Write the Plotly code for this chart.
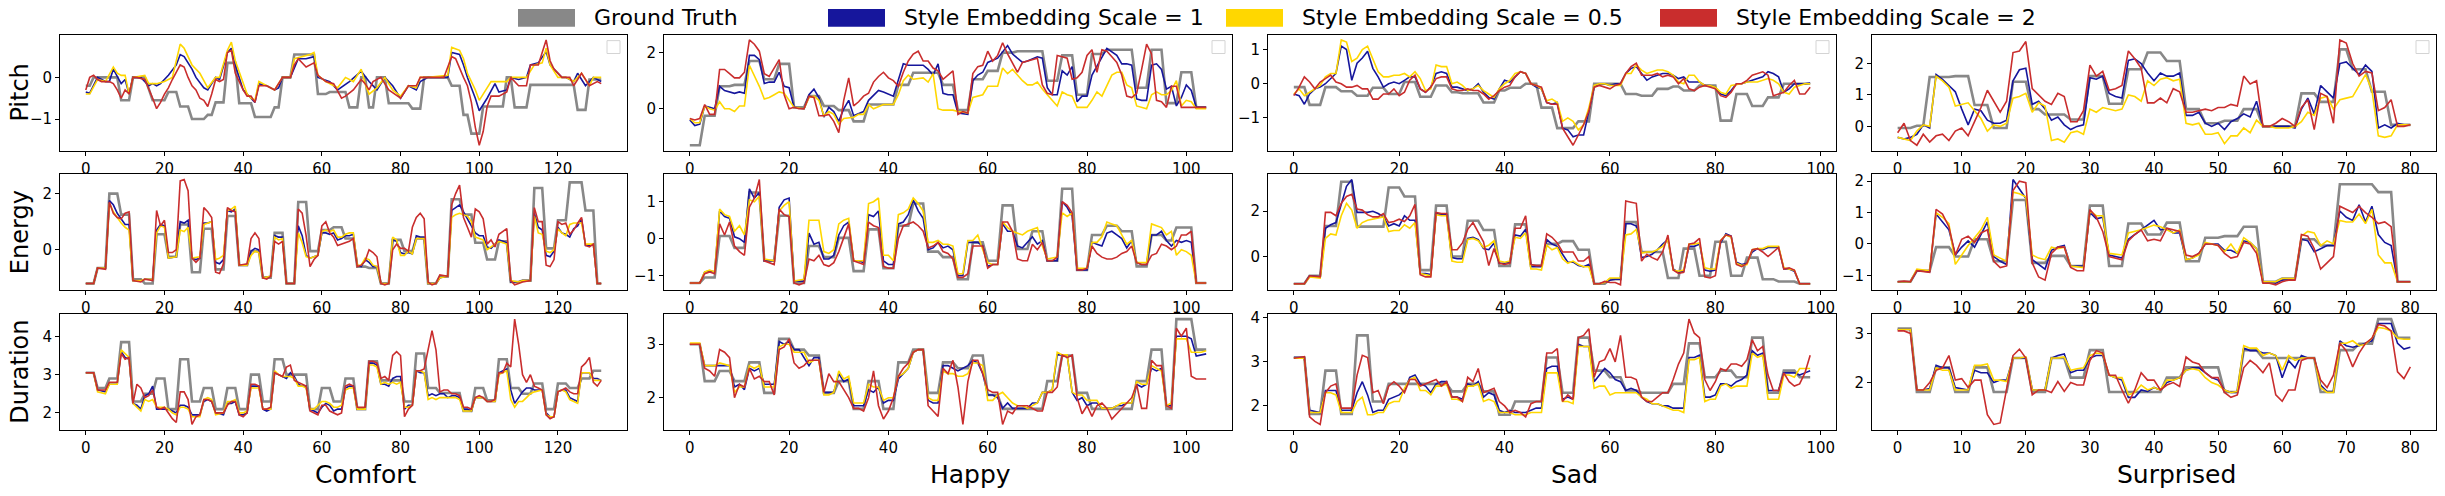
import plotly.graph_objects as go

W, H = 2445, 496
emotions = ["Comfort", "Happy", "Sad", "Surprised"]
features = ["Pitch", "Energy", "Duration"]
n_frames = [132, 105, 99, 81]
x_tick_step = [20, 20, 20, 10]
series_names = ["Ground Truth", "Style Embedding Scale = 1",
                "Style Embedding Scale = 0.5", "Style Embedding Scale = 2"]
series_colors = ["#888888", "#16169c", "#ffd700", "#c92d2d"]
y_ticks = [
    [[-1, 0], [0, 2], [-1, 0, 1], [0, 1, 2]],
    [[0, 2], [-1, 0, 1], [0, 2], [-1, 0, 1, 2]],
    [[2, 3, 4], [2, 3], [2, 3, 4], [2, 3]],
]

# ---------------- Comfort ----------------
comfort_pitch_gt = [(0,1,-0.2),(2,8,0.0),(9,11,-0.55),(12,15,0.0),(17,20,-0.55),(21,23,-0.35),(24,26,-0.7),(27,30,-1.0),(31,32,-0.9),(33,35,-0.6),(36,38,0.35),(39,42,-0.62),(43,47,-0.95),(48,49,-0.72),(50,52,0.0),(53,58,0.55),(59,61,-0.4),(62,66,-0.35),(67,69,-0.72),(70,71,0.0),(72,73,-0.72),(74,76,0.0),(77,82,-0.62),(83,85,-0.75),(86,92,0.0),(93,95,-0.2),(96,97,-0.9),(98,100,-1.35),(101,106,-0.7),(107,108,0.0),(109,112,-0.72),(113,124,-0.18),(125,127,-0.78),(128,131,-0.05)]
comfort_pitch_s1 = [(0,-0.35),(1,-0.38),(3,0.0),(5,-0.1),(6,-0.1),(7,0.2),(9,-0.15),(10,-0.05),(11,-0.4),(12,0.0),(14,0.0),(16,-0.2),(17,-0.15),(18,-0.2),(19,-0.15),(21,0.05),(23,0.3),(24,0.55),(25,0.5),(27,0.2),(28,0.0),(30,-0.25),(31,-0.3),(33,0.0),(34,-0.05),(36,0.6),(37,0.7),(38,0.3),(40,-0.3),(42,-0.5),(43,-0.6),(44,-0.15),(46,-0.2),(48,-0.3),(49,-0.25),(50,0.0),(52,0.0),(54,0.45),(56,0.45),(58,0.5),(59,0.0),(62,-0.1),(64,-0.3),(67,-0.1),(70,0.15),(72,-0.1),(74,-0.3),(76,0.0),(78,-0.2),(80,-0.5),(82,-0.2),(84,-0.3),(85,-0.1),(87,0.0),(92,0.0),(93,0.6),(95,0.55),(96,0.3),(97,0.0),(99,-0.5),(100,-0.8),(102,-0.5),(104,-0.15),(105,-0.35),(107,-0.3),(108,0.0),(110,-0.05),(112,0.0),(113,0.3),(115,0.35),(117,0.62),(118,0.3),(119,0.2),(121,0.0),(122,0.0),(124,-0.1),(125,0.1),(127,-0.2),(129,0.0),(131,-0.1)]
comfort_pitch_s05 = [(0,-0.4),(1,-0.4),(3,-0.05),(5,-0.1),(7,0.25),(8,0.1),(9,0.05),(10,0.05),(11,-0.4),(12,0.0),(15,0.05),(16,-0.15),(18,-0.15),(20,-0.1),(22,0.0),(24,0.8),(25,0.7),(27,0.3),(29,0.1),(31,-0.25),(33,0.0),(34,0.0),(36,0.65),(37,0.85),(38,0.4),(41,-0.4),(42,-0.5),(43,-0.55),(44,-0.1),(46,-0.2),(48,-0.3),(50,0.0),(52,0.0),(53,0.45),(55,0.5),(57,0.55),(58,0.6),(59,0.05),(61,-0.1),(64,-0.25),(66,0.0),(68,-0.1),(70,0.2),(71,-0.15),(72,-0.4),(74,-0.25),(76,0.0),(78,-0.3),(80,-0.45),(82,-0.2),(84,-0.25),(85,0.0),(87,0.0),(92,0.05),(93,0.72),(95,0.65),(96,0.45),(97,0.1),(99,-0.3),(100,-0.55),(101,-0.4),(103,-0.1),(105,-0.1),(107,-0.1),(108,0.0),(112,0.0),(114,0.3),(116,0.35),(117,0.7),(118,0.3),(120,0.0),(122,0.0),(124,-0.1),(126,0.1),(128,-0.2),(129,0.0),(131,0.0)]
comfort_pitch_s2 = [(0,-0.3),(1,0.0),(2,0.05),(3,-0.05),(4,-0.1),(6,-0.1),(7,-0.15),(8,-0.3),(9,-0.5),(10,-0.3),(11,-0.4),(12,0.0),(13,0.0),(15,-0.05),(17,-0.5),(18,-0.75),(19,-0.6),(20,-0.4),(21,-0.25),(22,-0.05),(24,0.3),(25,0.25),(26,0.0),(27,-0.2),(28,-0.3),(29,-0.5),(30,-0.55),(31,-0.7),(32,-0.4),(33,-0.05),(34,-0.1),(35,-0.05),(36,0.6),(37,0.65),(38,0.1),(40,-0.3),(41,-0.45),(42,-0.45),(43,-0.6),(44,-0.2),(46,-0.2),(48,-0.3),(50,0.0),(52,0.0),(53,0.3),(54,0.45),(56,0.25),(57,0.3),(58,0.35),(59,0.05),(61,-0.1),(63,-0.15),(65,-0.5),(66,-0.45),(68,-0.3),(70,-0.05),(71,-0.15),(72,-0.3),(73,-0.1),(75,0.0),(77,-0.3),(80,-0.5),(81,-0.35),(82,-0.2),(84,-0.2),(85,0.0),(87,0.0),(91,0.0),(93,0.5),(94,0.45),(96,0.0),(97,-0.2),(98,-0.6),(99,-1.2),(100,-1.63),(101,-1.3),(102,-0.7),(103,-0.45),(105,-0.45),(107,-0.35),(108,0.0),(110,-0.2),(112,-0.2),(113,0.3),(115,0.3),(116,0.6),(117,0.9),(118,0.4),(119,0.2),(121,0.0),(123,0.0),(124,-0.2),(126,0.1),(128,-0.2),(130,-0.1),(131,-0.15)]

comfort_energy_gt = [(0,2,-1.2),(3,5,-0.65),(6,8,2.0),(9,11,1.25),(12,14,-1.05),(15,17,-1.2),(18,20,0.55),(21,23,-0.25),(24,26,0.9),(27,29,-0.8),(30,32,0.75),(33,35,-0.7),(36,38,1.2),(39,41,-0.55),(42,44,-0.05),(45,47,-1.0),(48,50,0.6),(51,53,-1.2),(54,56,1.7),(57,59,-0.05),(60,62,0.7),(63,65,0.8),(66,68,0.4),(69,71,-0.6),(72,74,-0.65),(75,77,-1.2),(78,80,0.35),(81,83,-0.05),(84,86,0.4),(87,89,-1.2),(90,92,-0.95),(93,95,1.8),(96,98,1.25),(99,101,0.25),(102,104,-0.35),(105,107,0.3),(108,110,-1.15),(111,113,-1.1),(114,116,2.2),(117,119,0.05),(120,122,1.05),(123,126,2.4),(127,129,1.4),(130,131,-1.2)]
comfort_energy_s1 = [(0,-1.2),(2,-1.2),(3,-0.65),(5,-0.65),(6,1.75),(7,1.6),(8,1.3),(9,1.1),(10,0.9),(11,0.9),(12,-1.1),(14,-1.1),(15,-1.05),(17,-1.05),(18,0.7),(19,0.9),(20,0.85),(21,-0.3),(23,-0.25),(24,1.0),(25,0.95),(26,1.05),(27,-0.3),(28,-0.35),(29,-0.3),(30,0.95),(31,0.95),(32,1.0),(33,-0.45),(34,-0.5),(35,-0.35),(36,1.4),(37,1.35),(38,1.45),(39,-0.55),(41,-0.55),(42,-0.05),(43,0.05),(44,0.0),(45,-1.0),(47,-0.95),(48,0.5),(49,0.45),(50,0.45),(51,-1.2),(53,-1.2),(54,0.85),(55,0.5),(56,-0.2),(57,-0.3),(59,-0.2),(60,0.6),(61,0.6),(62,0.55),(63,0.6),(64,0.35),(65,0.4),(66,0.5),(67,0.5),(68,0.55),(69,-0.55),(70,-0.6),(71,-0.35),(72,-0.45),(73,-0.6),(74,-0.6),(75,-1.2),(77,-1.2),(78,0.35),(79,0.3),(80,-0.1),(81,-0.15),(82,-0.1),(83,-0.15),(84,0.5),(85,0.45),(86,0.45),(87,-1.2),(89,-1.2),(90,-1.0),(92,-0.95),(93,1.4),(94,1.5),(95,1.6),(96,1.35),(97,1.1),(98,0.85),(99,0.6),(100,0.5),(101,0.5),(102,0.1),(103,0.05),(104,0.2),(105,0.35),(106,0.3),(107,0.25),(108,-1.15),(110,-1.15),(111,-1.1),(113,-1.1),(114,1.3),(115,0.8),(116,0.7),(117,-0.2),(118,-0.25),(119,-0.05),(120,0.8),(121,0.6),(122,0.55),(123,0.45),(124,0.75),(125,0.85),(126,1.1),(127,0.15),(128,0.15),(129,0.2),(130,-1.2),(131,-1.2)]
comfort_energy_s05 = [(0,-1.2),(2,-1.2),(3,-0.65),(5,-0.65),(6,1.65),(7,1.35),(8,1.15),(9,0.95),(10,0.8),(11,0.7),(12,-1.1),(14,-1.1),(15,-1.05),(17,-1.05),(18,0.6),(19,0.85),(20,0.8),(21,-0.3),(23,-0.25),(24,0.7),(25,0.65),(26,0.8),(27,-0.3),(29,-0.25),(30,0.9),(31,0.95),(32,1.0),(33,-0.35),(34,-0.3),(35,-0.2),(36,1.4),(37,1.45),(38,1.55),(39,-0.55),(41,-0.55),(42,-0.2),(43,-0.05),(44,-0.1),(45,-1.0),(47,-0.95),(48,0.45),(49,0.35),(50,0.4),(51,-1.2),(53,-1.2),(54,0.6),(55,0.25),(56,-0.25),(57,-0.3),(59,-0.2),(60,0.65),(61,0.7),(62,0.65),(63,0.7),(64,0.45),(65,0.45),(66,0.55),(67,0.6),(68,0.6),(69,-0.55),(70,-0.55),(71,-0.3),(72,-0.35),(73,-0.55),(74,-0.6),(75,-1.2),(77,-1.2),(78,0.45),(79,0.35),(80,-0.2),(81,-0.2),(82,-0.05),(83,-0.15),(84,0.4),(86,0.4),(87,-1.2),(89,-1.2),(90,-1.0),(92,-0.95),(93,1.15),(94,1.25),(95,1.3),(96,1.25),(97,1.2),(98,1.0),(99,0.45),(100,0.4),(101,0.35),(102,0.0),(103,0.1),(104,0.2),(105,0.3),(106,0.25),(107,0.2),(108,-1.1),(110,-1.15),(111,-1.1),(113,-1.1),(114,1.2),(115,0.6),(116,0.55),(117,-0.05),(118,-0.1),(119,0.0),(120,0.75),(121,0.6),(122,0.5),(123,0.9),(124,0.95),(125,0.95),(126,0.95),(127,0.2),(128,0.2),(129,0.2),(130,-1.2),(131,-1.2)]
comfort_energy_s2 = [(0,-1.2),(2,-1.2),(3,-0.65),(5,-0.7),(6,1.7),(7,1.3),(8,1.15),(9,1.1),(10,1.3),(11,1.35),(12,-1.1),(14,-1.15),(15,-1.05),(17,-1.1),(18,1.4),(19,0.85),(20,1.05),(21,-0.1),(22,-0.1),(23,0.0),(24,2.45),(25,2.5),(26,2.1),(27,-0.3),(28,-0.45),(29,-0.3),(30,1.5),(31,1.35),(32,1.15),(33,-0.8),(34,-0.85),(35,-0.5),(36,1.5),(37,1.4),(38,1.35),(39,-0.55),(41,-0.5),(42,0.4),(43,0.6),(44,0.4),(45,-1.0),(46,-1.05),(47,-0.95),(48,0.3),(49,0.2),(50,0.3),(51,-1.2),(53,-1.2),(54,1.45),(55,1.3),(56,0.5),(57,-0.6),(58,-0.35),(59,-0.2),(60,0.85),(61,1.0),(62,0.6),(63,0.45),(64,0.15),(65,0.2),(66,0.25),(67,0.3),(68,0.4),(69,-0.6),(70,-0.55),(71,-0.4),(72,0.0),(73,-0.1),(74,-0.25),(75,-1.2),(76,-1.25),(77,-1.2),(78,0.0),(79,0.2),(80,0.05),(81,0.05),(82,-0.05),(83,0.8),(84,1.15),(85,1.3),(86,1.1),(87,-1.15),(88,-1.25),(89,-1.2),(90,-0.9),(92,-0.95),(93,1.6),(94,2.0),(95,2.3),(96,1.15),(97,0.8),(98,0.45),(99,1.45),(100,1.35),(101,1.1),(102,0.2),(103,0.35),(104,0.1),(105,0.55),(106,0.65),(107,0.75),(108,-1.1),(109,-1.25),(110,-1.2),(111,-1.15),(113,-1.1),(114,1.5),(115,1.0),(116,1.0),(117,-0.55),(118,-0.6),(119,-0.35),(120,1.0),(121,0.9),(122,0.95),(123,0.55),(124,0.7),(125,0.95),(126,1.15),(127,0.15),(128,0.1),(129,0.2),(130,-1.2),(131,-1.2)]

comfort_duration_gt = [(0,2,3.05),(3,5,2.65),(6,8,2.9),(9,11,3.85),(12,14,2.3),(15,17,2.5),(18,20,2.9),(21,23,2.1),(24,26,3.4),(27,29,2.3),(30,32,2.65),(33,35,2.1),(36,38,2.65),(39,41,2.1),(42,44,3.0),(45,47,2.3),(48,50,3.4),(51,56,3.0),(57,59,2.1),(60,62,2.65),(63,65,2.3),(66,68,2.9),(69,71,2.1),(72,74,3.35),(75,80,2.85),(81,83,2.3),(84,86,3.55),(87,89,2.65),(90,95,2.52),(96,98,2.05),(99,101,2.65),(102,104,2.33),(105,107,3.4),(108,110,2.65),(111,113,2.5),(114,116,2.77),(117,119,2.1),(120,122,2.77),(123,125,2.65),(126,128,2.9),(129,131,3.1)]
comfort_duration_s1 = [(0,3.05),(2,3.05),(3,2.6),(5,2.55),(6,2.75),(8,2.75),(9,3.6),(10,3.45),(11,3.4),(12,2.25),(13,2.2),(14,2.1),(15,2.45),(16,2.5),(17,2.7),(18,2.1),(20,2.1),(21,2.1),(22,2.05),(23,2.0),(24,2.2),(25,2.2),(26,2.15),(27,1.95),(29,1.95),(30,2.3),(31,2.35),(32,2.3),(33,2.0),(35,1.95),(36,2.25),(37,2.25),(38,2.3),(39,1.95),(40,1.95),(41,2.0),(42,2.7),(44,2.7),(45,2.1),(46,2.05),(47,2.1),(48,3.05),(49,3.0),(50,2.95),(51,2.9),(52,3.05),(53,2.95),(54,2.75),(55,2.7),(56,2.7),(57,2.1),(58,2.05),(59,2.0),(60,2.15),(61,2.25),(62,2.2),(63,2.05),(64,2.1),(65,2.1),(66,2.65),(67,2.7),(68,2.7),(69,2.1),(71,2.1),(72,3.3),(73,3.3),(74,3.25),(75,2.75),(76,2.75),(77,2.7),(78,2.9),(79,2.95),(80,2.95),(81,2.1),(82,2.2),(83,2.2),(84,3.1),(85,3.05),(86,3.05),(87,2.45),(88,2.5),(89,2.45),(90,2.5),(91,2.5),(92,2.4),(93,2.45),(94,2.45),(95,2.4),(96,2.1),(97,2.1),(98,2.05),(99,2.4),(101,2.4),(102,2.3),(104,2.3),(105,3.05),(106,3.1),(107,3.15),(108,2.6),(109,2.25),(110,2.4),(111,2.55),(112,2.65),(113,2.65),(114,2.6),(116,2.6),(117,2.0),(118,1.9),(119,1.9),(120,2.55),(121,2.6),(122,2.6),(123,2.4),(124,2.35),(125,2.3),(126,3.05),(128,3.05),(129,2.9),(130,2.9),(131,2.85)]
comfort_duration_s05 = [(0,3.05),(2,3.05),(3,2.55),(5,2.5),(6,2.75),(8,2.75),(9,3.65),(10,3.55),(11,3.45),(12,2.25),(13,2.15),(14,2.05),(15,2.35),(16,2.3),(17,2.35),(18,2.15),(20,2.15),(21,2.1),(22,2.0),(23,1.95),(24,2.15),(25,2.15),(26,2.1),(27,1.9),(29,1.9),(30,2.35),(31,2.4),(32,2.35),(33,1.95),(35,2.0),(36,2.3),(37,2.3),(38,2.35),(39,2.0),(40,2.0),(41,2.05),(42,2.65),(44,2.65),(45,2.1),(46,2.1),(47,2.1),(48,3.1),(49,3.0),(50,2.95),(51,2.95),(52,2.95),(53,2.9),(54,2.7),(55,2.7),(56,2.65),(57,2.1),(58,2.1),(59,2.2),(60,2.3),(61,2.3),(62,2.25),(63,2.15),(64,2.15),(65,2.2),(66,2.6),(67,2.65),(68,2.65),(69,2.1),(71,2.1),(72,3.25),(73,3.25),(74,3.2),(75,2.75),(76,2.8),(77,2.75),(78,2.8),(79,2.75),(80,2.8),(81,2.15),(82,2.15),(83,2.2),(84,3.1),(85,3.1),(86,3.05),(87,2.35),(88,2.4),(89,2.35),(90,2.4),(92,2.4),(94,2.4),(95,2.35),(96,2.05),(97,2.05),(98,2.05),(99,2.4),(101,2.4),(102,2.3),(104,2.3),(105,3.0),(106,3.05),(107,3.1),(108,2.35),(109,2.15),(110,2.3),(111,2.3),(112,2.4),(113,2.5),(114,2.55),(116,2.6),(117,1.95),(118,1.9),(119,1.9),(120,2.55),(121,2.6),(122,2.55),(123,2.35),(124,2.3),(125,2.25),(126,3.05),(128,3.05),(129,2.85),(130,2.85),(131,2.85)]
comfort_duration_s2 = [(0,3.05),(2,3.05),(3,2.6),(5,2.6),(6,2.8),(8,2.8),(9,3.55),(10,3.4),(11,3.45),(12,2.25),(13,2.75),(14,2.65),(15,2.4),(16,2.45),(17,2.6),(18,2.15),(19,2.1),(20,2.15),(21,2.0),(22,1.85),(23,1.75),(24,2.55),(25,2.55),(26,2.35),(27,1.7),(28,1.9),(29,1.95),(30,2.35),(31,2.35),(32,2.3),(33,2.0),(35,2.0),(36,2.2),(37,2.3),(38,2.3),(39,1.95),(40,1.9),(41,2.0),(42,2.75),(43,2.75),(44,2.7),(45,2.1),(46,2.1),(47,2.15),(48,3.05),(49,3.0),(50,2.95),(51,3.2),(52,3.25),(53,2.85),(54,2.8),(55,2.75),(56,2.7),(57,2.05),(58,2.0),(59,1.95),(60,2.2),(61,2.2),(62,2.05),(63,2.0),(64,1.95),(65,2.0),(66,2.7),(67,2.75),(68,2.7),(69,2.15),(71,2.15),(72,3.35),(73,3.35),(74,3.3),(75,2.9),(76,2.95),(77,2.85),(78,3.5),(79,3.6),(80,3.5),(81,1.9),(82,2.1),(83,2.2),(84,3.1),(85,3.1),(86,3.15),(87,3.65),(88,4.15),(89,3.65),(90,2.55),(91,2.6),(92,2.6),(93,2.5),(94,2.5),(95,2.45),(96,2.15),(97,2.15),(98,2.1),(99,2.4),(100,2.45),(101,2.4),(102,2.3),(103,2.3),(104,2.35),(105,3.05),(106,3.05),(107,3.3),(108,3.2),(109,4.45),(110,3.8),(111,3.0),(112,2.8),(113,3.0),(114,2.7),(115,2.65),(116,2.6),(117,1.95),(118,1.85),(119,1.9),(120,2.55),(121,2.6),(122,2.65),(123,2.55),(124,2.5),(125,2.5),(126,3.2),(127,3.3),(128,3.45),(129,2.8),(130,2.7),(131,2.85)]

# ---------------- Happy ----------------
happy_pitch_gt = [(0,2,-1.3),(3,5,-0.25),(6,8,0.8),(9,11,0.85),(12,14,1.7),(15,17,1.05),(18,20,1.6),(21,23,0.05),(24,26,0.45),(27,29,0.1),(30,32,-0.05),(33,35,-0.45),(36,41,0.15),(42,44,0.85),(45,50,1.28),(51,53,0.85),(54,56,-0.05),(57,59,1.05),(60,62,1.35),(63,65,2.0),(66,71,2.05),(72,74,1.0),(75,77,1.9),(78,80,0.5),(81,83,1.95),(84,89,2.1),(90,92,0.75),(93,95,2.1),(96,98,0.2),(99,101,1.3),(102,104,0.05)]
happy_pitch_s1 = [(0,-0.4),(1,-0.6),(2,-0.55),(3,0.1),(4,0.05),(5,0.0),(6,0.8),(7,0.65),(9,0.55),(10,0.6),(11,0.55),(12,1.9),(13,1.9),(14,1.75),(15,0.9),(16,0.95),(17,0.95),(18,1.3),(19,0.8),(20,0.75),(21,0.05),(23,0.0),(24,0.5),(25,0.7),(26,0.4),(27,-0.3),(28,0.05),(29,-0.1),(30,-0.45),(31,0.0),(32,0.3),(33,-0.25),(35,-0.1),(36,0.3),(38,0.65),(39,0.6),(41,0.45),(42,1.0),(43,1.6),(44,1.55),(47,1.55),(48,1.4),(49,1.2),(50,1.6),(51,0.55),(52,0.5),(53,0.5),(54,-0.15),(56,-0.2),(57,1.0),(58,1.2),(59,1.3),(60,1.65),(62,1.8),(64,2.25),(65,1.95),(67,1.65),(68,1.7),(70,1.85),(71,1.8),(72,0.75),(73,0.5),(74,0.5),(75,1.35),(76,1.2),(77,1.5),(78,0.25),(79,0.45),(80,0.45),(81,1.2),(82,1.5),(84,2.15),(86,1.9),(87,1.6),(88,1.6),(89,1.55),(90,0.35),(91,0.3),(92,0.3),(93,1.55),(94,1.6),(95,1.4),(96,0.7),(97,0.8),(98,0.1),(99,0.4),(100,0.85),(101,0.65),(102,0.05),(104,0.05)]
happy_pitch_s05 = [(0,-0.35),(1,-0.5),(2,-0.5),(3,0.1),(4,0.0),(5,-0.05),(6,0.25),(7,0.0),(8,0.0),(9,-0.1),(10,0.1),(11,0.1),(12,1.55),(13,1.2),(14,0.8),(15,0.35),(16,0.4),(17,0.5),(18,0.6),(19,0.55),(20,0.3),(21,0.05),(23,0.0),(24,0.4),(25,0.45),(26,0.3),(27,-0.25),(28,-0.1),(29,-0.2),(30,-0.55),(31,-0.35),(33,-0.3),(34,-0.2),(35,-0.2),(36,0.15),(37,0.0),(39,0.15),(41,0.15),(42,0.5),(43,1.0),(44,1.2),(45,1.05),(47,1.1),(48,0.95),(49,1.25),(50,0.0),(51,-0.05),(53,-0.05),(54,-0.1),(56,-0.15),(57,0.4),(58,0.45),(59,0.5),(60,0.8),(62,0.8),(63,1.45),(64,1.25),(65,1.4),(66,1.2),(67,1.0),(68,0.85),(69,0.85),(70,0.95),(71,0.7),(72,0.5),(73,0.3),(74,0.1),(75,0.6),(76,0.5),(77,0.45),(78,0.05),(80,0.05),(81,0.3),(82,0.6),(83,0.45),(85,1.2),(86,1.3),(87,1.3),(88,0.85),(89,0.75),(90,0.1),(92,0.0),(93,0.5),(94,0.6),(95,0.5),(96,0.5),(97,0.65),(98,1.0),(99,0.1),(100,0.3),(101,0.25),(102,0.0),(104,0.0)]
happy_pitch_s2 = [(0,-0.35),(1,-0.4),(2,-0.35),(3,0.15),(4,-0.2),(5,-0.2),(6,1.4),(7,1.4),(8,1.25),(9,1.1),(10,1.1),(11,1.3),(12,2.45),(13,2.3),(14,2.05),(15,1.25),(16,1.15),(17,1.45),(18,1.75),(19,0.5),(20,0.0),(21,0.05),(22,0.0),(23,0.0),(24,0.45),(25,0.4),(26,-0.25),(27,-0.25),(28,-0.2),(29,-0.45),(30,-0.85),(31,0.3),(32,1.1),(33,0.1),(34,0.25),(35,0.45),(36,0.55),(37,0.95),(38,1.15),(39,1.3),(40,1.1),(41,1.0),(42,0.8),(43,1.3),(44,1.7),(45,1.95),(46,2.05),(47,1.7),(48,1.7),(49,1.45),(50,1.35),(51,1.05),(52,1.2),(53,1.35),(54,-0.2),(55,-0.1),(56,-0.15),(57,1.25),(58,1.5),(59,1.55),(60,2.05),(61,1.7),(62,1.9),(63,2.35),(64,1.95),(65,1.6),(66,1.3),(67,1.65),(68,1.7),(69,1.75),(70,1.8),(71,0.85),(72,0.55),(73,0.5),(74,1.9),(75,1.85),(76,1.8),(77,1.05),(78,1.1),(79,1.3),(80,1.9),(81,2.1),(82,1.3),(83,2.1),(84,2.05),(85,1.85),(86,1.65),(87,1.2),(88,0.45),(89,0.4),(90,0.55),(91,1.4),(92,2.3),(93,1.95),(94,0.3),(95,0.25),(96,0.05),(97,0.8),(98,0.8),(99,0.05),(104,0.05)]

happy_energy_gt = [(0,2,-1.2),(3,5,-1.05),(6,8,0.07),(9,11,-0.25),(12,14,1.25),(15,17,-0.6),(18,20,0.62),(21,23,-1.2),(24,26,-0.2),(27,29,-0.5),(30,32,0.02),(33,35,-0.88),(36,38,0.25),(39,41,-0.8),(42,44,0.35),(45,47,0.95),(48,50,-0.35),(51,53,-0.5),(54,56,-1.1),(57,59,-0.1),(60,62,-0.6),(63,65,0.9),(66,68,-0.28),(69,71,0.2),(72,74,-0.6),(75,77,1.35),(78,80,-0.85),(81,83,0.1),(84,86,0.35),(87,89,0.2),(90,92,-0.75),(93,95,0.1),(96,97,-0.05),(98,101,0.3),(102,104,-1.2)]
happy_energy_s1 = [(0,-1.2),(2,-1.2),(3,-0.9),(4,-0.88),(5,-0.9),(6,0.75),(7,0.6),(8,0.55),(9,0.05),(10,0.0),(11,-0.1),(12,1.35),(13,1.1),(14,1.25),(15,-0.6),(17,-0.6),(18,0.85),(19,1.05),(20,1.1),(21,-1.15),(23,-1.15),(24,0.15),(25,-0.15),(26,-0.1),(27,-0.55),(28,-0.55),(29,-0.45),(30,0.1),(31,0.35),(32,0.45),(33,-0.6),(34,-0.6),(35,-0.65),(36,0.65),(37,0.6),(38,0.75),(39,-0.6),(40,-0.7),(41,-0.7),(42,0.4),(43,0.45),(44,0.65),(45,1.05),(46,0.75),(47,0.55),(48,-0.3),(49,-0.25),(50,-0.1),(51,-0.25),(52,-0.2),(53,-0.3),(54,-1.0),(55,-1.0),(56,-0.1),(57,-0.1),(58,-0.1),(59,-0.2),(60,-0.75),(61,-0.7),(62,-0.7),(63,0.4),(64,0.2),(65,0.2),(66,-0.2),(67,-0.25),(68,-0.1),(69,0.05),(70,-0.15),(71,-0.05),(72,-0.6),(74,-0.6),(75,1.0),(76,0.85),(77,0.6),(78,-0.85),(80,-0.85),(81,-0.1),(82,-0.15),(83,-0.2),(84,0.15),(85,0.2),(86,0.1),(87,0.0),(88,-0.25),(89,-0.05),(90,-0.65),(91,-0.7),(92,-0.7),(93,0.1),(94,0.1),(95,0.2),(96,-0.05),(97,-0.2),(98,-0.05),(99,-0.1),(100,-0.05),(101,-0.1),(102,-1.2),(104,-1.2)]
happy_energy_s05 = [(0,-1.2),(2,-1.2),(3,-0.9),(4,-0.85),(5,-0.9),(6,0.8),(7,0.65),(8,0.6),(9,0.2),(10,0.35),(11,0.1),(12,1.05),(13,1.0),(14,1.15),(15,-0.55),(17,-0.6),(18,0.75),(19,0.9),(20,1.0),(21,-1.15),(23,-1.1),(24,0.5),(26,0.5),(27,-0.35),(28,-0.4),(29,-0.3),(30,0.4),(31,0.5),(32,0.55),(33,-0.6),(35,-0.6),(36,0.95),(37,1.0),(38,1.1),(39,-0.45),(40,-0.45),(41,-0.6),(42,0.65),(43,0.7),(44,0.8),(45,1.1),(46,0.95),(47,0.75),(48,-0.1),(49,-0.1),(50,-0.05),(51,-0.15),(52,-0.15),(53,-0.2),(54,-0.95),(55,-0.95),(56,-0.05),(57,-0.05),(58,0.1),(59,-0.3),(60,-0.65),(61,-0.7),(62,-0.7),(63,0.45),(64,0.3),(65,0.2),(66,0.15),(67,0.1),(68,0.2),(69,0.25),(70,0.3),(71,-0.2),(72,-0.55),(74,-0.5),(75,0.7),(76,0.6),(77,0.7),(78,-0.8),(80,-0.8),(81,-0.1),(82,-0.1),(83,0.05),(84,0.45),(85,0.4),(86,0.35),(87,0.1),(88,-0.15),(89,-0.05),(90,-0.65),(92,-0.65),(93,0.4),(94,0.35),(95,0.3),(96,0.1),(97,0.2),(98,-0.45),(99,-0.3),(100,-0.35),(101,-0.45),(102,-1.2),(104,-1.2)]
happy_energy_s2 = [(0,-1.2),(2,-1.2),(3,-0.95),(4,-0.9),(5,-0.95),(6,0.4),(7,0.1),(8,0.45),(9,-0.2),(10,-0.35),(11,-0.45),(12,0.85),(13,1.1),(14,1.6),(15,-0.6),(16,-0.65),(17,-0.7),(18,0.8),(19,0.65),(20,0.6),(21,-1.2),(22,-1.25),(23,-1.2),(24,-0.55),(25,-0.6),(26,-0.45),(27,-0.7),(28,-0.75),(29,-0.65),(30,-0.35),(31,0.0),(32,0.4),(33,-0.6),(34,-0.65),(35,-0.7),(36,0.45),(37,0.35),(38,0.3),(39,-0.75),(40,-0.8),(41,-0.8),(42,0.0),(43,0.35),(44,0.4),(45,0.45),(46,0.35),(47,0.2),(48,-0.25),(49,-0.2),(50,-0.1),(51,-0.35),(52,-0.4),(53,-0.55),(54,-1.05),(55,-1.05),(56,-0.95),(57,-0.2),(59,-0.2),(60,-0.8),(61,-0.7),(62,-0.7),(63,0.45),(64,0.45),(65,0.2),(66,-0.55),(67,-0.6),(68,-0.6),(69,-0.15),(70,-0.3),(71,-0.1),(72,-0.6),(73,-0.6),(74,-0.5),(75,1.0),(76,0.9),(77,0.7),(78,-0.85),(79,-0.85),(80,-0.8),(81,-0.2),(82,-0.4),(83,-0.5),(84,-0.55),(85,-0.55),(86,-0.5),(87,-0.4),(88,-0.35),(89,-0.2),(90,-0.65),(91,-0.7),(92,-0.7),(93,-0.45),(94,-0.4),(95,-0.15),(96,-0.2),(97,-0.3),(98,-0.2),(99,0.1),(100,0.1),(101,0.2),(102,-1.2),(104,-1.2)]

happy_duration_gt = [(0,2,3.0),(3,5,2.31),(6,8,2.5),(9,11,2.31),(12,14,2.66),(15,17,2.09),(18,20,3.1),(21,23,2.9),(24,26,2.79),(27,29,2.09),(30,32,2.31),(33,35,1.79),(36,38,2.31),(39,41,1.79),(42,44,2.66),(45,47,2.9),(48,50,2.09),(51,53,2.66),(54,56,2.55),(57,59,2.79),(60,62,2.05),(63,71,1.79),(72,74,2.31),(75,77,2.79),(78,80,2.09),(81,89,1.79),(90,92,2.31),(93,95,2.9),(96,97,1.79),(98,101,3.47),(102,104,2.9)]
happy_duration_s1 = [(0,3.0),(2,3.0),(3,2.6),(8,2.6),(9,2.2),(10,2.25),(11,2.15),(12,2.55),(13,2.5),(14,2.55),(15,2.25),(17,2.25),(18,3.05),(19,3.0),(20,3.05),(21,2.9),(22,2.9),(23,2.75),(24,2.6),(25,2.75),(26,2.75),(27,2.1),(29,2.1),(30,2.45),(31,2.3),(32,2.35),(33,1.85),(35,1.85),(36,2.15),(37,2.1),(38,2.2),(39,1.9),(40,1.95),(41,1.95),(42,2.35),(43,2.45),(44,2.55),(45,2.85),(46,2.9),(47,2.9),(48,1.95),(49,1.9),(50,1.9),(51,2.6),(52,2.6),(53,2.55),(54,2.5),(55,2.55),(56,2.6),(57,2.7),(58,2.65),(59,2.45),(60,2.05),(61,2.05),(62,2.0),(63,1.8),(64,1.9),(65,1.8),(68,1.8),(69,1.9),(70,1.9),(71,2.1),(72,2.1),(73,2.15),(74,2.8),(76,2.8),(77,2.1),(78,1.95),(79,2.0),(80,1.85),(81,1.9),(82,1.9),(83,1.8),(85,1.8),(86,1.85),(87,1.85),(88,1.9),(89,1.9),(90,2.25),(91,2.2),(92,2.25),(93,2.55),(94,2.5),(95,2.55),(96,1.85),(97,1.85),(98,3.15),(100,3.15),(101,3.1),(102,2.78),(103,2.8),(104,2.82)]
happy_duration_s05 = [(0,3.02),(2,3.02),(3,2.6),(5,2.6),(6,2.65),(8,2.6),(9,2.1),(10,2.2),(11,2.2),(12,2.6),(13,2.55),(14,2.6),(15,2.2),(17,2.2),(18,2.95),(19,3.0),(20,3.0),(21,2.85),(23,2.85),(24,2.65),(25,2.7),(26,2.7),(27,2.05),(28,2.05),(29,2.1),(30,2.5),(31,2.35),(32,2.4),(33,1.9),(35,1.9),(36,2.25),(37,2.2),(38,2.2),(39,1.95),(40,2.0),(41,2.0),(42,2.4),(43,2.45),(44,2.55),(45,2.85),(46,2.9),(47,2.9),(48,2.0),(49,1.95),(50,1.95),(51,2.5),(52,2.45),(53,2.45),(54,2.4),(55,2.4),(56,2.45),(57,2.65),(58,2.65),(59,2.6),(60,1.95),(61,1.95),(62,2.05),(63,2.1),(64,2.0),(65,1.9),(66,1.85),(67,1.85),(68,1.8),(69,1.85),(70,1.9),(71,2.1),(72,2.1),(73,2.15),(74,2.85),(75,2.8),(76,2.8),(77,2.1),(78,2.05),(79,2.05),(80,1.95),(82,1.95),(83,1.8),(85,1.8),(86,1.85),(87,1.9),(89,1.9),(90,2.3),(91,2.25),(92,2.25),(93,2.6),(94,2.55),(95,2.5),(96,1.85),(97,1.9),(98,3.1),(100,3.1),(101,2.85),(103,2.85),(104,2.88)]
happy_duration_s2 = [(0,3.0),(2,3.0),(3,2.55),(4,2.5),(5,2.4),(6,2.9),(7,2.85),(8,2.75),(9,2.0),(10,2.25),(11,2.2),(12,2.55),(13,2.35),(14,2.4),(15,2.3),(16,2.3),(17,2.05),(18,2.9),(19,2.95),(20,3.1),(21,2.65),(22,2.55),(23,2.6),(24,2.7),(26,2.7),(27,2.1),(28,2.45),(29,2.3),(30,2.3),(31,2.15),(32,2.0),(33,1.8),(34,1.8),(35,1.75),(36,2.0),(37,2.5),(38,1.85),(39,1.6),(40,1.75),(41,2.0),(42,2.4),(43,2.55),(44,2.65),(45,2.85),(46,2.9),(47,2.9),(48,1.85),(49,1.75),(50,1.65),(51,2.55),(52,2.45),(53,2.7),(54,2.2),(55,1.5),(56,2.3),(57,2.7),(58,2.7),(59,2.45),(60,2.15),(61,2.1),(62,2.1),(63,1.5),(64,1.75),(65,1.7),(66,1.85),(68,1.85),(69,1.8),(70,1.75),(71,1.75),(72,2.1),(73,2.1),(74,2.2),(75,2.8),(76,2.75),(77,2.8),(78,2.0),(79,1.7),(80,1.85),(81,1.65),(82,1.85),(83,1.9),(84,1.8),(85,1.6),(86,1.7),(87,1.8),(88,1.9),(89,2.0),(90,2.25),(91,1.8),(92,1.8),(93,2.7),(94,2.6),(95,2.6),(96,1.85),(97,1.8),(98,3.3),(99,3.15),(100,3.3),(101,2.4),(102,2.35),(104,2.35)]

# ---------------- Sad ----------------
sad_pitch_gt = [(0,2,-0.1),(3,5,-0.62),(6,8,-0.1),(9,11,-0.22),(12,14,-0.35),(15,17,-0.12),(18,20,-0.3),(21,23,0.05),(24,26,-0.38),(27,29,-0.05),(30,31,-0.25),(32,35,-0.28),(36,38,-0.55),(39,40,-0.2),(41,43,-0.12),(44,46,0.0),(47,49,-0.7),(50,53,-1.3),(54,56,-1.1),(57,62,0.0),(63,65,-0.3),(66,68,-0.35),(69,71,-0.15),(72,73,-0.08),(74,76,-0.2),(77,80,-0.05),(81,83,-1.08),(84,86,-0.3),(87,89,-0.65),(90,92,-0.4),(93,98,0.0)]
sad_pitch_s1 = [(0,-0.3),(1,-0.35),(2,-0.6),(3,-0.3),(4,-0.15),(5,-0.1),(6,0.0),(7,0.15),(8,0.3),(9,1.1),(10,1.0),(11,0.1),(12,0.6),(13,0.75),(14,0.95),(15,0.45),(16,0.2),(17,-0.1),(18,0.0),(19,0.05),(20,0.0),(21,0.1),(22,0.2),(23,0.2),(24,-0.15),(25,-0.25),(26,-0.1),(27,0.3),(28,0.35),(29,0.3),(30,-0.1),(31,-0.1),(32,-0.15),(33,-0.2),(34,-0.15),(35,0.0),(36,-0.25),(37,-0.4),(38,-0.45),(39,-0.15),(40,0.1),(41,0.05),(42,0.2),(43,0.35),(44,0.3),(45,0.0),(46,-0.1),(47,-0.15),(48,-0.55),(49,-0.6),(50,-0.55),(51,-1.3),(52,-1.35),(53,-1.55),(54,-1.5),(55,-1.5),(56,-0.8),(57,-0.1),(58,0.0),(59,0.0),(60,-0.05),(61,0.0),(62,0.0),(63,0.3),(64,0.45),(65,0.5),(66,0.3),(67,0.1),(68,0.2),(69,0.25),(70,0.3),(71,0.3),(72,0.25),(73,0.15),(74,0.2),(75,0.05),(77,0.05),(78,-0.05),(79,-0.05),(80,-0.1),(81,-0.3),(82,-0.35),(83,-0.2),(84,0.0),(85,0.0),(86,0.05),(87,0.1),(88,0.15),(89,0.2),(90,0.35),(91,0.3),(92,0.2),(93,-0.25),(94,-0.15),(95,0.0),(97,0.0),(98,0.02)]
sad_pitch_s05 = [(0,-0.3),(1,-0.15),(2,-0.35),(3,-0.25),(4,-0.15),(5,-0.05),(6,0.2),(7,0.3),(8,0.3),(9,1.28),(10,1.22),(11,0.65),(12,0.75),(13,1.0),(14,1.1),(15,0.7),(16,0.35),(17,0.2),(18,0.2),(19,0.25),(20,0.25),(21,0.3),(22,0.2),(23,0.35),(24,0.15),(25,-0.2),(26,-0.15),(27,0.55),(28,0.5),(29,0.5),(30,0.0),(31,0.05),(32,-0.05),(33,-0.2),(34,-0.15),(35,-0.05),(36,-0.2),(37,-0.3),(38,-0.4),(39,-0.15),(40,0.0),(41,0.1),(42,0.3),(43,0.35),(44,0.3),(45,0.0),(46,-0.05),(47,-0.15),(48,-0.5),(49,-0.45),(50,-0.55),(51,-1.1),(52,-1.0),(53,-1.1),(54,-1.35),(55,-1.2),(56,-0.7),(57,-0.05),(58,0.0),(59,0.0),(60,-0.05),(62,-0.05),(63,0.3),(64,0.3),(65,0.55),(66,0.4),(67,0.3),(68,0.35),(69,0.4),(70,0.4),(71,0.35),(72,0.25),(73,0.05),(74,0.0),(75,0.25),(76,0.25),(77,0.05),(78,-0.05),(79,-0.05),(80,-0.1),(81,-0.25),(82,-0.3),(83,-0.05),(85,0.0),(86,0.05),(88,0.05),(89,0.1),(90,0.15),(91,0.1),(92,0.0),(93,-0.25),(94,-0.3),(95,-0.1),(96,-0.05),(97,0.0),(98,0.0)]
sad_pitch_s2 = [(0,-0.35),(1,-0.1),(2,0.2),(3,0.05),(4,-0.15),(5,0.05),(6,0.15),(7,0.25),(8,0.05),(9,0.0),(10,-0.1),(11,-0.1),(12,-0.05),(13,-0.15),(14,-0.15),(15,-0.45),(16,-0.45),(17,-0.3),(18,-0.3),(19,-0.15),(20,-0.35),(21,-0.25),(22,0.1),(23,0.25),(24,-0.15),(25,-0.25),(26,-0.1),(27,0.15),(28,0.2),(29,0.2),(30,-0.15),(31,-0.2),(32,-0.2),(33,-0.15),(34,-0.2),(35,-0.2),(36,-0.3),(37,-0.45),(38,-0.35),(39,-0.2),(40,-0.1),(41,-0.05),(42,0.2),(43,0.35),(44,0.3),(45,0.0),(46,-0.05),(47,-0.1),(48,-0.55),(49,-0.6),(50,-0.6),(51,-1.3),(52,-1.55),(53,-1.8),(54,-1.5),(55,-1.2),(56,-0.8),(57,-0.1),(58,-0.05),(59,-0.1),(60,-0.15),(61,-0.05),(62,0.0),(63,0.3),(64,0.5),(65,0.6),(66,0.25),(68,0.25),(69,0.3),(70,0.2),(71,0.25),(72,0.2),(73,0.0),(74,0.15),(75,-0.15),(76,-0.2),(77,-0.1),(78,-0.05),(79,-0.1),(80,-0.15),(81,-0.35),(82,-0.4),(83,-0.25),(84,0.0),(85,0.0),(86,0.1),(87,0.25),(88,0.3),(89,0.35),(90,0.25),(91,-0.35),(92,-0.3),(93,-0.25),(94,-0.05),(95,0.1),(96,-0.3),(97,-0.3),(98,-0.1)]

sad_energy_gt = [(0,2,-1.2),(3,5,-0.85),(6,8,1.35),(9,11,3.3),(12,17,1.32),(18,20,3.05),(21,23,2.65),(24,26,-0.6),(27,29,2.25),(30,32,0.0),(33,35,1.58),(36,38,1.17),(39,41,-0.42),(42,44,1.42),(45,47,-0.4),(48,50,0.56),(51,53,0.68),(54,56,0.3),(57,59,-1.2),(60,62,-1.0),(63,65,1.52),(66,70,0.2),(71,73,-0.95),(74,76,0.35),(77,79,-0.85),(80,82,0.65),(83,85,-0.85),(86,88,-0.05),(89,91,-1.0),(92,95,-1.1),(96,98,-1.2)]
sad_energy_s1 = [(0,-1.2),(2,-1.2),(3,-0.85),(5,-0.9),(6,1.25),(7,1.4),(8,1.5),(9,2.3),(10,3.1),(11,3.4),(12,1.95),(14,1.95),(15,2.0),(16,1.9),(17,1.75),(18,1.35),(19,1.45),(20,1.35),(21,1.8),(22,1.6),(23,1.6),(24,-0.75),(25,-0.75),(26,-0.8),(27,1.9),(28,1.85),(29,1.85),(30,-0.05),(31,-0.1),(32,-0.1),(33,0.8),(34,0.85),(35,0.75),(36,0.35),(37,0.3),(38,0.6),(39,-0.3),(40,-0.3),(41,-0.25),(42,0.95),(43,0.9),(44,1.2),(45,-0.45),(47,-0.45),(48,0.75),(49,0.55),(50,0.45),(51,0.1),(52,-0.25),(53,-0.25),(54,-0.4),(55,-0.45),(56,-0.35),(57,-1.2),(58,-1.2),(59,-1.15),(60,-1.05),(61,-1.0),(62,-1.0),(63,1.45),(64,1.45),(65,1.35),(66,-0.05),(67,0.0),(68,0.1),(69,0.3),(70,0.55),(71,0.75),(72,-0.55),(73,-0.7),(74,-0.65),(75,0.45),(76,0.45),(77,0.55),(78,-0.6),(79,-0.65),(80,-0.6),(81,0.6),(82,1.0),(83,0.9),(84,-0.25),(85,-0.35),(86,-0.3),(87,0.2),(88,0.35),(89,0.3),(90,0.4),(92,0.4),(93,-0.55),(94,-0.55),(95,-0.65),(96,-1.2),(98,-1.2)]
sad_energy_s05 = [(0,-1.2),(2,-1.2),(3,-0.9),(5,-0.95),(6,0.8),(7,1.0),(8,0.95),(9,1.8),(10,2.35),(11,2.05),(12,1.25),(13,1.5),(14,1.6),(15,1.65),(16,1.7),(17,1.75),(18,1.1),(19,1.15),(20,1.15),(21,1.4),(22,1.25),(23,1.5),(24,-0.75),(25,-0.8),(26,-0.85),(27,1.85),(28,1.8),(29,1.8),(30,-0.2),(31,-0.25),(32,-0.25),(33,0.75),(34,0.8),(35,0.7),(36,0.4),(37,0.5),(38,0.7),(39,-0.2),(40,-0.25),(41,-0.2),(42,0.85),(43,0.8),(44,1.05),(45,-0.55),(46,-0.55),(47,-0.6),(48,0.5),(49,0.3),(50,0.4),(51,-0.1),(52,-0.3),(53,-0.2),(54,-0.35),(55,-0.45),(56,-0.45),(57,-1.2),(58,-1.2),(59,-1.15),(60,-0.95),(62,-0.95),(63,0.95),(64,1.0),(65,1.2),(66,0.15),(67,0.2),(68,0.2),(69,0.3),(70,0.45),(71,0.75),(72,-0.6),(73,-0.65),(74,-0.6),(75,0.55),(76,0.55),(77,0.6),(78,-0.5),(79,-0.55),(80,-0.55),(81,0.7),(82,0.95),(83,0.85),(84,-0.3),(85,-0.4),(86,-0.35),(87,0.3),(88,0.35),(89,0.35),(90,0.45),(92,0.45),(93,-0.5),(94,-0.55),(95,-0.6),(96,-1.2),(98,-1.2)]
sad_energy_s2 = [(0,-1.2),(2,-1.2),(3,-0.85),(5,-0.9),(6,1.95),(7,1.95),(8,1.8),(9,2.35),(10,2.65),(11,2.75),(12,2.1),(13,2.05),(14,1.85),(15,1.75),(16,1.75),(17,1.9),(18,1.5),(19,1.55),(20,1.65),(21,1.55),(22,1.8),(23,2.3),(24,-0.8),(25,-0.9),(26,-0.9),(27,1.95),(28,1.9),(29,1.9),(30,0.3),(31,0.3),(32,0.6),(33,1.2),(34,1.5),(35,1.1),(36,0.65),(37,-0.4),(38,0.35),(39,-0.3),(40,-0.35),(41,-0.3),(42,1.25),(43,1.25),(44,1.8),(45,-0.35),(46,-0.4),(47,-0.4),(48,1.0),(49,0.85),(50,0.6),(51,0.2),(53,0.2),(54,-0.2),(55,-0.2),(56,0.0),(57,-1.2),(58,-1.2),(59,-1.1),(60,-1.15),(61,-1.15),(62,-1.25),(63,2.45),(64,2.4),(65,2.35),(66,-0.2),(67,0.1),(68,-0.05),(69,-0.15),(70,0.2),(71,0.95),(72,-0.6),(73,-0.75),(74,-0.7),(75,0.55),(76,0.6),(77,0.8),(78,-0.9),(79,-0.95),(80,-0.85),(81,0.7),(82,0.95),(83,0.9),(84,-0.35),(85,-0.45),(86,-0.3),(87,0.3),(88,0.35),(89,0.2),(90,0.0),(91,0.2),(92,0.4),(93,-0.55),(94,-0.5),(95,-0.6),(96,-1.2),(98,-1.2)]

sad_duration_gt = [(0,2,3.1),(3,5,1.82),(6,8,2.8),(9,11,1.82),(12,14,3.6),(15,17,2.1),(18,29,2.5),(30,32,2.33),(33,35,2.5),(36,38,2.33),(39,41,1.8),(42,47,2.1),(48,50,3.1),(51,53,2.3),(54,56,3.55),(57,59,2.8),(60,62,2.65),(63,65,2.35),(66,71,2.3),(72,74,2.5),(75,77,3.42),(78,80,2.65),(81,83,2.8),(84,86,2.65),(87,89,3.55),(90,92,2.3),(93,95,2.8),(96,98,2.65)]
sad_duration_s1 = [(0,3.1),(2,3.1),(3,1.9),(4,1.88),(5,1.85),(6,2.35),(8,2.35),(9,1.9),(11,1.9),(12,2.3),(13,2.55),(14,2.25),(15,1.85),(16,1.9),(17,1.9),(18,2.15),(19,2.2),(20,2.25),(21,2.35),(22,2.65),(23,2.7),(24,2.5),(25,2.45),(26,2.3),(27,2.5),(28,2.55),(29,2.55),(30,2.2),(31,2.2),(32,2.15),(33,2.5),(34,2.45),(35,2.55),(36,2.2),(37,2.3),(38,2.25),(39,1.9),(40,1.85),(41,1.9),(42,1.85),(44,1.85),(45,1.9),(46,1.95),(47,1.95),(48,2.85),(49,2.9),(50,2.9),(51,2.15),(52,2.2),(53,2.15),(54,3.4),(55,3.35),(56,3.35),(57,2.55),(58,2.7),(59,2.85),(60,2.75),(61,2.6),(62,2.55),(63,2.35),(64,2.4),(65,2.35),(66,2.2),(67,2.1),(68,2.05),(69,2.05),(70,2.0),(71,2.0),(72,1.95),(74,1.95),(75,3.1),(76,3.1),(77,3.15),(78,2.2),(79,2.2),(80,2.25),(81,2.5),(82,2.5),(83,2.45),(84,2.55),(85,2.6),(86,2.7),(87,3.25),(88,3.15),(89,3.2),(90,2.35),(92,2.35),(93,2.75),(95,2.75),(96,2.7),(97,2.75),(98,2.8)]
sad_duration_s05 = [(0,3.08),(2,3.08),(3,1.85),(5,1.85),(6,2.3),(7,2.3),(8,2.25),(9,1.85),(11,1.85),(12,2.1),(13,2.2),(14,1.8),(15,1.8),(16,1.85),(17,1.85),(18,2.05),(19,2.1),(20,2.1),(21,2.4),(22,2.6),(23,2.65),(24,2.35),(25,2.35),(26,2.25),(27,2.45),(28,2.45),(29,2.5),(30,2.15),(31,2.15),(32,2.1),(33,2.45),(34,2.45),(35,2.5),(36,2.1),(37,2.15),(38,2.1),(39,1.85),(41,1.85),(42,1.8),(44,1.8),(45,1.85),(47,1.85),(48,2.75),(50,2.75),(51,2.1),(52,2.1),(53,2.05),(54,3.35),(56,3.35),(57,2.4),(58,2.45),(59,2.45),(60,2.25),(61,2.3),(65,2.3),(66,2.2),(67,2.15),(68,2.05),(69,2.05),(70,2.0),(71,1.95),(72,1.9),(73,1.9),(74,1.85),(75,3.05),(76,3.05),(77,3.1),(78,2.1),(79,2.15),(80,2.15),(81,2.45),(82,2.5),(83,2.4),(84,2.45),(86,2.45),(87,3.2),(88,3.1),(89,3.15),(90,2.15),(92,2.15),(93,2.7),(94,2.7),(95,2.65),(96,2.85),(98,2.85)]
sad_duration_s2 = [(0,3.08),(2,3.12),(3,1.75),(4,1.65),(5,1.58),(6,2.3),(7,2.45),(8,2.5),(9,1.95),(11,1.95),(12,2.7),(13,3.15),(14,3.1),(15,2.3),(16,2.35),(17,2.05),(18,2.45),(19,2.55),(20,2.45),(21,2.3),(22,2.6),(23,2.6),(24,2.45),(25,2.5),(26,2.55),(27,2.6),(28,2.45),(29,2.55),(30,2.2),(31,2.2),(32,2.1),(33,2.65),(34,2.55),(35,2.85),(36,2.3),(37,2.35),(38,2.4),(39,2.1),(40,2.0),(41,1.85),(42,1.9),(43,1.85),(44,1.75),(45,2.05),(46,2.1),(47,2.1),(48,3.2),(49,3.2),(50,3.3),(51,2.1),(52,2.25),(53,2.15),(54,3.55),(55,3.6),(56,3.75),(57,2.65),(58,3.0),(59,3.05),(60,3.3),(61,3.0),(62,3.6),(63,2.65),(64,2.65),(65,2.6),(66,2.2),(67,2.1),(68,2.1),(69,2.2),(70,2.3),(71,2.3),(72,2.6),(73,2.95),(74,3.2),(75,3.97),(76,3.65),(77,3.55),(78,2.6),(79,2.35),(80,2.55),(81,2.85),(82,2.8),(83,2.95),(84,2.95),(85,2.9),(86,3.05),(87,3.5),(88,3.25),(89,3.35),(90,2.7),(91,2.35),(92,2.35),(93,2.75),(94,2.55),(95,2.45),(96,2.5),(97,2.75),(98,3.15)]

# ---------------- Surprised ----------------
surprised_pitch_gt = [(0,2,-0.05),(3,4,0.02),(5,8,1.57),(9,11,1.6),(12,14,0.68),(15,17,-0.05),(18,20,1.42),(21,22,0.55),(23,26,0.38),(27,29,0.22),(30,32,1.6),(33,35,0.72),(36,38,1.82),(39,41,2.35),(42,44,2.08),(45,47,0.55),(48,50,0.1),(51,53,0.18),(54,56,0.55),(57,62,0.0),(63,65,1.05),(66,68,0.78),(69,70,2.45),(71,73,1.82),(74,76,1.1),(77,80,0.05)]
surprised_pitch_s1 = [(0,-0.35),(1,-0.4),(2,-0.35),(3,-0.25),(4,0.05),(5,-0.05),(6,1.65),(7,1.5),(8,1.3),(9,1.1),(10,0.55),(11,0.05),(12,0.55),(13,0.5),(14,0.2),(15,0.1),(16,0.1),(17,0.2),(18,1.45),(19,1.8),(20,1.85),(21,0.7),(22,0.8),(23,0.55),(24,0.2),(25,0.3),(26,0.05),(27,-0.1),(28,0.0),(29,0.05),(30,1.55),(31,1.5),(32,1.6),(33,1.05),(34,0.95),(35,0.9),(36,2.1),(37,2.15),(38,2.0),(39,1.7),(40,1.45),(41,1.7),(42,1.6),(43,1.6),(44,1.7),(45,0.35),(46,0.35),(47,0.45),(48,0.1),(49,0.0),(50,0.1),(51,-0.1),(52,0.15),(53,0.25),(54,0.4),(55,0.3),(56,0.8),(57,0.0),(61,0.0),(62,-0.05),(63,0.55),(64,0.9),(65,0.4),(66,1.3),(67,1.1),(68,0.9),(69,2.0),(70,2.05),(71,1.85),(72,1.65),(73,1.95),(74,1.75),(75,-0.05),(76,0.05),(77,-0.05),(78,0.1),(79,0.05),(80,0.05)]
surprised_pitch_s05 = [(0,-0.35),(1,-0.4),(2,-0.45),(3,-0.15),(4,0.05),(5,0.0),(6,1.6),(7,1.45),(8,1.25),(9,0.65),(10,0.7),(11,0.75),(12,0.5),(13,0.25),(14,-0.15),(15,0.05),(16,0.0),(17,0.1),(18,0.9),(19,0.95),(20,1.05),(21,0.45),(22,0.75),(23,0.65),(24,-0.45),(25,-0.4),(26,-0.5),(27,-0.2),(28,-0.15),(29,-0.25),(30,0.55),(31,0.45),(32,0.6),(33,0.55),(34,0.5),(35,0.55),(36,1.0),(37,0.95),(38,0.8),(39,1.45),(40,1.3),(41,1.5),(42,1.55),(43,1.45),(44,1.5),(45,0.1),(46,0.05),(47,0.1),(48,-0.25),(49,-0.25),(50,-0.2),(51,-0.55),(52,-0.3),(53,-0.3),(54,-0.05),(55,-0.2),(56,0.2),(57,0.0),(58,0.0),(59,-0.05),(61,-0.05),(62,0.0),(63,0.15),(64,0.45),(65,0.35),(66,0.9),(67,0.95),(68,0.55),(69,0.85),(70,0.9),(71,0.95),(72,1.3),(73,1.65),(74,1.15),(75,-0.3),(76,-0.35),(77,-0.3),(78,0.05),(80,0.05)]
surprised_pitch_s2 = [(0,-0.2),(1,0.1),(2,-0.45),(3,-0.6),(4,-0.25),(5,-0.5),(6,-0.3),(7,-0.25),(8,-0.45),(9,-0.15),(10,-0.05),(11,-0.3),(12,0.15),(13,0.6),(14,1.15),(15,0.8),(16,0.45),(17,0.8),(18,2.35),(19,2.4),(20,2.7),(21,1.2),(22,1.0),(23,0.8),(24,0.7),(25,1.05),(26,0.95),(27,0.15),(28,0.15),(29,0.5),(30,1.95),(31,1.6),(32,1.75),(33,1.15),(34,1.2),(35,1.3),(36,2.4),(37,2.15),(38,1.85),(39,0.75),(40,0.75),(41,0.9),(42,0.75),(43,1.2),(44,1.1),(45,0.45),(46,0.45),(47,0.5),(48,0.55),(49,0.5),(50,0.6),(51,0.6),(52,0.7),(53,0.65),(54,1.6),(55,1.35),(56,1.45),(57,0.0),(58,0.0),(59,0.1),(60,0.25),(61,0.15),(62,0.0),(63,0.6),(64,0.85),(65,-0.1),(66,1.05),(67,0.95),(68,0.1),(69,2.75),(70,2.65),(71,2.0),(72,1.6),(73,1.75),(74,1.7),(75,0.5),(76,0.6),(77,0.85),(78,0.0),(79,0.0),(80,0.05)]

surprised_energy_gt = [(0,2,-1.2),(3,5,-0.85),(6,8,-0.1),(9,11,-0.4),(12,14,0.15),(15,17,-0.55),(18,20,1.4),(21,23,-0.6),(24,26,-0.38),(27,29,-0.7),(30,32,1.22),(33,35,-0.7),(36,38,0.65),(39,41,0.3),(42,44,0.68),(45,47,-0.55),(48,50,0.2),(51,53,0.25),(54,56,0.55),(57,59,-1.2),(60,62,-1.1),(63,65,0.15),(66,68,-0.05),(69,74,1.9),(75,77,1.65),(78,80,-1.2)]
surprised_energy_s1 = [(0,-1.2),(2,-1.2),(3,-0.85),(5,-0.88),(6,0.95),(7,0.7),(8,0.45),(9,-0.35),(10,-0.1),(11,0.1),(12,-0.1),(13,0.3),(14,0.7),(15,-0.4),(16,-0.55),(17,-0.65),(18,2.05),(19,1.75),(20,1.45),(21,-0.5),(22,-0.65),(23,-0.8),(24,-0.2),(25,-0.1),(26,-0.05),(27,-0.7),(29,-0.7),(30,1.0),(31,0.8),(32,0.85),(33,-0.35),(35,-0.45),(36,0.15),(38,0.45),(40,0.75),(41,0.45),(42,0.5),(43,0.35),(44,0.35),(45,-0.5),(46,-0.45),(47,-0.3),(48,0.0),(50,0.0),(51,-0.2),(52,-0.2),(53,-0.3),(54,0.1),(55,0.05),(56,-0.15),(57,-1.2),(59,-1.25),(60,-1.15),(62,-1.1),(63,0.15),(64,0.1),(65,-0.25),(66,-0.15),(67,-0.05),(68,-0.05),(69,1.05),(70,0.85),(71,0.75),(72,1.25),(73,0.7),(74,1.2),(75,0.3),(76,0.05),(77,-0.05),(78,-1.2),(80,-1.2)]
surprised_energy_s05 = [(0,-1.2),(2,-1.2),(3,-0.8),(5,-0.85),(6,1.0),(7,0.85),(8,0.65),(9,-0.65),(10,-0.35),(11,-0.05),(12,0.2),(13,0.45),(14,0.85),(15,-0.35),(16,-0.45),(17,-0.55),(18,1.65),(19,1.6),(20,1.5),(21,-0.35),(22,-0.45),(23,-0.5),(24,-0.1),(25,-0.15),(26,-0.1),(27,-0.7),(29,-0.75),(30,1.05),(31,0.9),(32,0.9),(33,-0.3),(35,-0.35),(36,0.35),(38,0.45),(40,0.6),(41,0.55),(42,0.45),(43,0.35),(44,0.45),(45,-0.5),(46,-0.45),(47,-0.35),(48,0.05),(50,-0.05),(51,-0.25),(52,0.0),(53,-0.3),(54,0.2),(55,0.05),(56,-0.15),(57,-1.2),(59,-1.2),(60,-1.1),(62,-1.1),(63,0.25),(64,0.4),(65,0.35),(66,-0.05),(67,0.1),(68,0.0),(69,0.75),(70,0.7),(71,0.7),(72,0.95),(73,0.65),(74,1.1),(75,-0.35),(76,-0.6),(77,-0.6),(78,-1.2),(80,-1.2)]
surprised_energy_s2 = [(0,-1.2),(1,-1.18),(2,-1.2),(3,-0.85),(5,-0.9),(6,1.1),(7,0.95),(8,0.55),(9,-0.35),(10,0.15),(11,0.25),(12,0.05),(13,0.35),(14,0.45),(15,-0.55),(16,-0.75),(17,-0.7),(18,1.7),(19,2.0),(20,1.95),(21,-0.6),(22,-1.05),(23,-1.15),(24,-0.3),(25,-0.1),(26,-0.1),(27,-0.75),(28,-0.85),(29,-0.85),(30,1.1),(31,0.85),(32,0.4),(33,-0.4),(34,-0.45),(35,-0.5),(36,0.1),(37,0.3),(38,0.45),(39,0.1),(40,0.15),(41,0.1),(42,0.5),(43,0.45),(44,0.4),(45,-0.35),(46,-0.4),(47,-0.3),(48,0.0),(49,0.0),(50,-0.05),(51,-0.3),(52,-0.45),(53,-0.4),(54,0.05),(55,0.0),(56,-0.3),(57,-1.25),(58,-1.25),(59,-1.3),(60,-1.2),(61,-1.15),(62,-1.15),(63,0.3),(64,0.25),(65,-0.15),(66,-0.8),(67,-0.6),(68,-0.4),(69,1.2),(70,1.1),(71,1.0),(72,1.2),(73,1.0),(74,0.85),(75,0.65),(76,0.7),(77,0.55),(78,-1.2),(80,-1.2)]

surprised_duration_gt = [(0,2,3.1),(3,5,1.81),(6,8,2.31),(9,11,1.81),(12,14,2.31),(15,17,1.81),(18,20,2.5),(21,23,1.81),(24,26,2.5),(27,29,2.1),(30,32,2.66),(33,41,1.81),(42,44,2.1),(45,50,2.31),(51,53,1.81),(54,56,2.66),(57,65,2.5),(66,68,1.81),(69,71,2.66),(72,74,2.79),(75,77,3.29),(78,80,2.91)]
surprised_duration_s1 = [(0,3.08),(2,3.08),(3,1.85),(4,1.85),(5,1.88),(6,2.35),(7,2.3),(8,2.3),(9,1.9),(10,1.88),(11,1.85),(12,2.25),(13,2.2),(14,2.2),(15,2.0),(16,2.05),(17,2.05),(18,2.5),(20,2.5),(21,1.85),(23,1.85),(24,2.5),(25,2.55),(26,2.58),(27,2.2),(28,2.25),(29,2.25),(30,2.5),(31,2.55),(32,2.55),(33,2.15),(34,2.1),(35,2.05),(36,1.7),(37,1.7),(38,1.85),(39,1.82),(40,1.9),(41,1.85),(42,2.0),(43,2.05),(44,2.1),(45,2.25),(46,2.3),(47,2.3),(48,2.2),(49,2.1),(50,2.05),(51,1.85),(52,1.8),(53,1.8),(54,2.7),(55,2.65),(56,2.65),(57,2.6),(58,2.6),(59,2.55),(60,2.1),(61,2.45),(62,2.3),(63,2.55),(64,2.5),(65,2.5),(66,1.95),(67,1.82),(68,1.82),(69,2.85),(70,2.75),(71,2.72),(72,2.75),(73,2.8),(74,2.85),(75,3.2),(77,3.2),(78,2.8),(79,2.68),(80,2.72)]
surprised_duration_s05 = [(0,3.08),(2,3.08),(3,1.85),(5,1.85),(6,2.3),(7,2.25),(8,2.25),(9,1.85),(11,1.85),(12,2.35),(13,2.35),(14,2.38),(15,2.05),(16,2.05),(17,2.02),(18,2.5),(19,2.5),(20,2.52),(21,1.85),(23,1.85),(24,2.5),(25,2.5),(26,2.52),(27,2.25),(28,2.28),(29,2.3),(30,2.55),(31,2.6),(32,2.58),(33,2.15),(34,2.1),(35,2.1),(36,1.75),(37,1.8),(38,1.95),(39,1.85),(40,1.9),(41,1.85),(42,2.05),(43,2.05),(44,2.1),(45,2.25),(46,2.28),(47,2.25),(48,2.1),(49,2.0),(50,1.95),(51,1.85),(52,1.8),(53,1.82),(54,2.75),(55,2.7),(56,2.7),(57,2.55),(58,2.6),(59,2.55),(60,2.25),(61,2.55),(62,2.45),(63,2.5),(65,2.5),(66,1.9),(67,1.8),(68,1.8),(69,2.8),(70,2.8),(71,2.85),(72,2.75),(73,2.78),(74,2.9),(75,3.12),(76,3.1),(77,3.05),(78,2.9),(79,2.88),(80,2.88)]
surprised_duration_s2 = [(0,3.05),(1,3.05),(2,3.0),(3,1.85),(4,1.85),(5,2.0),(6,2.25),(7,2.3),(8,2.55),(9,2.05),(10,2.08),(11,1.9),(12,2.05),(13,2.05),(14,1.35),(15,1.15),(16,1.18),(17,1.85),(18,2.55),(19,2.68),(20,2.5),(21,1.75),(22,1.85),(23,1.85),(24,1.8),(25,2.02),(26,1.82),(27,2.0),(28,1.95),(29,1.95),(30,2.45),(31,2.65),(32,2.6),(33,2.15),(34,2.15),(35,1.85),(36,1.58),(37,1.85),(38,2.2),(39,2.05),(40,2.05),(41,1.85),(42,1.95),(43,2.0),(44,1.92),(45,2.52),(46,2.42),(47,2.38),(48,2.2),(49,2.1),(50,2.1),(51,1.8),(52,1.7),(53,1.75),(54,2.3),(55,2.45),(56,2.35),(57,2.2),(58,2.4),(59,1.75),(60,1.62),(61,1.85),(62,1.85),(63,2.45),(64,2.5),(65,2.5),(66,2.05),(67,1.9),(68,2.15),(69,2.8),(70,2.65),(71,2.32),(72,2.6),(73,2.8),(74,2.9),(75,3.18),(76,3.15),(77,3.05),(78,2.22),(79,2.08),(80,2.32)]

panels = [
    [(comfort_pitch_gt, comfort_pitch_s1, comfort_pitch_s05, comfort_pitch_s2),
     (happy_pitch_gt, happy_pitch_s1, happy_pitch_s05, happy_pitch_s2),
     (sad_pitch_gt, sad_pitch_s1, sad_pitch_s05, sad_pitch_s2),
     (surprised_pitch_gt, surprised_pitch_s1, surprised_pitch_s05, surprised_pitch_s2)],
    [(comfort_energy_gt, comfort_energy_s1, comfort_energy_s05, comfort_energy_s2),
     (happy_energy_gt, happy_energy_s1, happy_energy_s05, happy_energy_s2),
     (sad_energy_gt, sad_energy_s1, sad_energy_s05, sad_energy_s2),
     (surprised_energy_gt, surprised_energy_s1, surprised_energy_s05, surprised_energy_s2)],
    [(comfort_duration_gt, comfort_duration_s1, comfort_duration_s05, comfort_duration_s2),
     (happy_duration_gt, happy_duration_s1, happy_duration_s05, happy_duration_s2),
     (sad_duration_gt, sad_duration_s1, sad_duration_s05, sad_duration_s2),
     (surprised_duration_gt, surprised_duration_s1, surprised_duration_s05, surprised_duration_s2)],
]

# ---------------- layout geometry (pixels from top-left) ----------------
col_px = [(60, 627), (664, 1232), (1268, 1836), (1872, 2436)]
row_px = [(30, 147), (171, 288), (312, 429)]
FONT = "DejaVu Sans"

def px_x(p):
    return p / W

def px_y(p):
    return 1 - p / H

def gt_points(segs):
    xs, ys = [], []
    for a, b, v in segs:
        xs += [a, b]
        ys += [v, v]
    return xs, ys

fig = go.Figure()
layout = {}
shapes = []
annotations = []

for r in range(3):
    for c in range(4):
        k = r * 4 + c + 1
        xa = "x" if k == 1 else f"x{k}"
        ya = "y" if k == 1 else f"y{k}"
        gt, s1, s05, s2 = panels[r][c]
        gx, gy = gt_points(gt)
        all_y = list(gy)
        fig.add_trace(go.Scatter(x=gx, y=gy, mode="lines", xaxis=xa, yaxis=ya,
                                 line=dict(color=series_colors[0], width=2.6),
                                 showlegend=False, hoverinfo="skip"))
        for series, col in ((s1, series_colors[1]), (s05, series_colors[2]), (s2, series_colors[3])):
            xs = [p[0] for p in series]
            ys = [p[1] for p in series]
            all_y += ys
            fig.add_trace(go.Scatter(x=xs, y=ys, mode="lines", xaxis=xa, yaxis=ya,
                                     line=dict(color=col, width=1.6),
                                     showlegend=False, hoverinfo="skip"))
        n = n_frames[c]
        lo, hi = min(all_y), max(all_y)
        pad = 0.05 * (hi - lo)
        xmax = 1.05 * (n - 1)
        l, rr = col_px[c]
        t, b = row_px[r]
        axis_common = dict(showline=True, mirror=True, linecolor="#000", linewidth=1,
                           ticks="outside", ticklen=4, tickwidth=1, tickcolor="#000",
                           showgrid=False, zeroline=False,
                           tickfont=dict(family=FONT, size=15, color="#000"))
        layout["xaxis" if k == 1 else f"xaxis{k}"] = dict(
            domain=[px_x(l), px_x(rr)], anchor=ya, range=[-0.05 * (n - 1), xmax],
            tickvals=list(range(0, int(xmax) + 1, x_tick_step[c])), **axis_common)
        layout["yaxis" if k == 1 else f"yaxis{k}"] = dict(
            domain=[px_y(b), px_y(t)], anchor=xa, range=[lo - pad, hi + pad],
            tickvals=y_ticks[r][c], **axis_common)
        if r == 0:
            # empty legend box in the top-right corner of each top panel
            x1p, x0p = rr - 7, rr - 20
            y0p, y1p = t + 6, t + 19
            shapes.append(dict(type="rect", xref="paper", yref="paper",
                               x0=px_x(x0p), x1=px_x(x1p), y0=px_y(y1p), y1=px_y(y0p),
                               line=dict(color="#d4d4d4", width=1), fillcolor="white"))

# y axis titles (left column)
for r, name in enumerate(features):
    t, b = row_px[r]
    annotations.append(dict(text=name, xref="paper", yref="paper", x=px_x(20), y=px_y((t + b) / 2),
                            textangle=-90, showarrow=False, xanchor="center", yanchor="middle",
                            font=dict(family=FONT, size=24, color="#000")))

# column titles
for c, name in enumerate(emotions):
    l, rr = col_px[c]
    annotations.append(dict(text=name, xref="paper", yref="paper", x=px_x((l + rr) / 2 + 22), y=px_y(474),
                            showarrow=False, xanchor="center", yanchor="middle",
                            font=dict(family=FONT, size=25, color="#000")))

# figure legend (patch swatches + labels)
legend_swatch_px = [518, 828, 1226, 1660]
legend_text_px = [592, 902, 1300, 1734]
for i, name in enumerate(series_names):
    sx = legend_swatch_px[i]
    shapes.append(dict(type="rect", xref="paper", yref="paper",
                       x0=px_x(sx), x1=px_x(sx + 57), y0=px_y(22), y1=px_y(4),
                       line=dict(width=0), fillcolor=series_colors[i]))
    annotations.append(dict(text=name, xref="paper", yref="paper", x=px_x(legend_text_px[i]), y=px_y(13),
                            showarrow=False, xanchor="left", yanchor="middle",
                            font=dict(family=FONT, size=22, color="#000")))

fig.update_layout(width=W, height=H, margin=dict(l=0, r=0, t=0, b=0),
                  paper_bgcolor="white", plot_bgcolor="white", showlegend=False,
                  shapes=shapes, annotations=annotations, **layout)
fig.write_html("out.html", config={"displayModeBar": False},
               post_script="document.body.style.margin='0';document.body.style.overflow='hidden';")
